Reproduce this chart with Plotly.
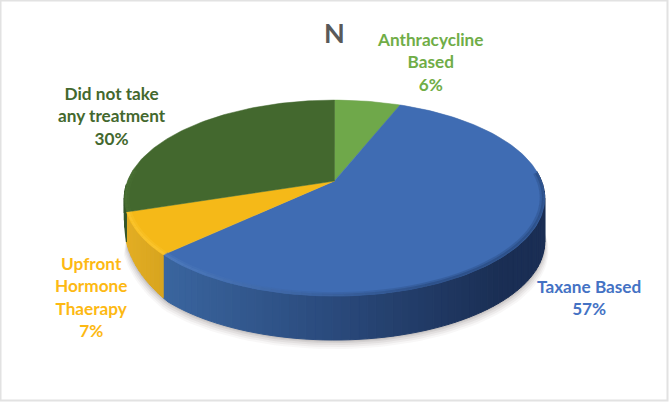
import numpy as np
import plotly.graph_objects as go

categories = ["Anthracycline<br>Based", "Taxane Based", "Upfront<br>Hormone<br>Thaerapy", "Did not take<br>any treatment"]
values = [6, 57, 7, 30]
top_colors = ["#6fa84a", "#3f6cb3", "#f5b918", "#43682e"]
label_colors = ["#70ad47", "#4472c4", "#fdb913", "#43682e"]
label_pos = [(430, 62), (589, 297), (91.5, 297), (112, 116)]
title = "N"

CX, CY, R, B, K, DEPTH = 334.5, 181.0, 207.0, 95.0, 0.174, 44.0
W, H = 670, 402


def proj(theta_deg, scale=1.0, dy=0.0):
    t = np.radians(theta_deg)
    u, v = np.sin(t) * scale, -np.cos(t) * scale
    s = 1 / (1 - K * v)
    return CX + R * u * s, CY + B * v * s + dy


def wall(theta_deg):
    return float(np.interp(theta_deg, [0, 225, 252, 268, 360], [DEPTH, DEPTH, 30, 0, 0]))


def lerp(c1, c2, t):
    t = float(np.clip(t, 0, 1))
    a = [int(c1[i:i + 2], 16) for i in (1, 3, 5)]
    b = [int(c2[i:i + 2], 16) for i in (1, 3, 5)]
    return "rgb(%d,%d,%d)" % tuple(round(a[i] + (b[i] - a[i]) * t) for i in range(3))


side_ramps = [("#2f5226", "#2f5226"), None, ("#e3ae24", "#d6a31e"), ("#35562a", "#35562a")]


def side_color(idx, x):
    if idx == 1:
        t = (x - 163) / (500 - 163)
        if t < 0.5:
            return lerp("#3a659f", "#2a4a7c", t / 0.5)
        return lerp("#2a4a7c", "#1a2e54", (t - 0.5) / 0.5)
    a, b = side_ramps[idx]
    return lerp(a, b, (x - 126) / 40)


fig = go.Figure()


def poly(xs, ys, color, line=None, width=0):
    fig.add_trace(go.Scatter(
        x=xs, y=ys, mode="lines", fill="toself", fillcolor=color,
        line=dict(color=line or color, width=width), hoverinfo="skip", showlegend=False))


edges = np.concatenate([[0], np.cumsum(values)]) / sum(values) * 360

# soft shadow under the pie
full = np.linspace(0, 250, 126)
walls = np.array([wall(a) for a in full])
for off, alpha in [(9, 0.05), (7, 0.07), (5, 0.09), (3, 0.12), (1.5, 0.14)]:
    x, y = proj(full)
    y = y + walls + off
    x2 = CX + (x - CX) * (1 + off * 0.002)
    tx, ty = proj(full)
    poly(np.r_[x2, tx[::-1]], np.r_[y, ty[::-1]], f"rgba(110,105,105,{alpha})")

# side wall strips
for i in range(len(values)):
    a0, a1 = edges[i], edges[i + 1]
    n = max(2, int((a1 - a0) / 2))
    th = np.linspace(a0, a1, n + 1)
    for a, b in zip(th[:-1], th[1:]):
        mid = (a + b) / 2
        if np.cos(np.radians(mid)) > 0.12 or wall(mid) <= 0:
            continue
        arc = np.array([a, b])
        xt, yt = proj(arc)
        yb = yt + np.array([wall(a), wall(b)])
        col = side_color(i, proj(mid)[0])
        poly([xt[0], xt[1], xt[1], xt[0], xt[0]], [yt[0], yt[1], yb[1], yb[0], yt[0]], col, col, 1)

# top face
for i in range(len(values)):
    th = np.linspace(edges[i], edges[i + 1], max(3, int(values[i] * 3)))
    x, y = proj(th)
    poly(np.r_[CX, x, CX], np.r_[CY, y, CY], top_colors[i], top_colors[i], 0.5)

# soft bevel along the front rim
bevels = [None, ("#4f7cbf", "#2b4d84"), ("#fcc62f", "#f0b41c"), ("#4a7034", "#43682e")]
for i in range(1, 4):
    th = np.linspace(edges[i], edges[i + 1], max(3, int(values[i] * 1.5)))
    for a, b in zip(th[:-1], th[1:]):
        mid = (a + b) / 2
        if np.cos(np.radians(mid)) > 0.1:
            continue
        t = (proj(mid)[0] - 165) / (430 - 165)
        col = lerp(bevels[i][0], bevels[i][1], t)
        for scale, w, op in [(0.985, 3.5, 0.4), (0.993, 2.5, 0.75)]:
            xr, yr = proj(np.array([a, b]), scale)
            fig.add_trace(go.Scatter(
                x=xr, y=yr, mode="lines", opacity=op,
                line=dict(color=col, width=w),
                hoverinfo="skip", showlegend=False))

# data labels
for cat, val, col, (lx, ly) in zip(categories, values, label_colors, label_pos):
    fig.add_annotation(
        x=lx, y=ly, text=f"<b>{cat}<br>{val}%</b>", showarrow=False, align="center",
        font=dict(family="Lato, Carlito, sans-serif", size=17.2, color=col))

fig.add_annotation(x=334.5, y=32, text=f"<b>{title}</b>", showarrow=False,
                   font=dict(family="Lato, sans-serif", size=27, color="#595959"))

fig.update_layout(
    width=W, height=H, margin=dict(l=0, r=0, t=0, b=0),
    paper_bgcolor="white", plot_bgcolor="white", showlegend=False,
    xaxis=dict(range=[0, W], visible=False, fixedrange=True),
    yaxis=dict(range=[H, 0], visible=False, fixedrange=True),
    shapes=[dict(type="rect", x0=0.5, y0=0.5, x1=W - 2.5, y1=H - 1.5,
                 line=dict(color="#e2e2e2", width=2), fillcolor="rgba(0,0,0,0)", layer="below")],
)
fig.write_html("out.html", config={"displayModeBar": False},
               post_script="document.body.style.margin='0';document.documentElement.style.overflow='hidden';")
